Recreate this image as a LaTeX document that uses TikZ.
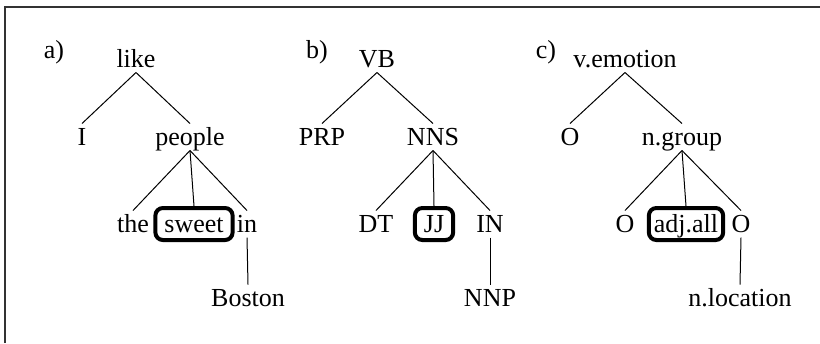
\documentclass[tikz,border=0pt]{standalone}
\usepackage{fontspec}
\setmainfont{Liberation Serif}
\usetikzlibrary{positioning}
\tikzset{
  tag/.style={inner sep=0pt, text height=8.4pt, text depth=2pt, anchor=base},
  hilite/.style={tag, draw, line width=1.6pt, rounded corners=3pt, inner xsep=3.6pt, inner ysep=1.2pt},
  branch/.style={draw=black, line width=0.4pt},
  frame/.style={draw=black!80, line width=0.8pt}
}
\begin{document}
\begin{tikzpicture}[x=0.4pt, y=-0.4pt, font=\fontsize{10.4}{12.5}\selectfont]
\useasboundingbox (0,0) rectangle (820,343);
\draw[frame] (5,343) -- (5,7) -- (820,7);
% a) words
\node[tag] (laba) at (54,58) {a)};
\node[tag] (like) at (136,67) {like};
\node[tag] (I) at (82,145) {I};
\node[tag] (people) at (190,145) {people};
\node[tag] (the) at (133,232) {the};
\node[hilite] (sweet) at (194,232) {sweet};
\node[tag] (in) at (247,232) {in};
\node[tag] (boston) at (248,306) {Boston};
\draw[branch] (like.south) -- (I.north);
\draw[branch] (like.south) -- (people.north);
\draw[branch] (people.south) -- (the.north);
\draw[branch] (people.south) -- (sweet.north);
\draw[branch] (people.south) -- (in.north);
\draw[branch] (in.south) -- (boston.north);
% b) POS tags
\node[tag] (labb) at (317,58) {b)};
\node[tag] (vb) at (377,67) {VB};
\node[tag] (prp) at (322,145) {PRP};
\node[tag] (nns) at (433,145) {NNS};
\node[tag] (dt) at (376,232) {DT};
\node[hilite] (jj) at (434,232) {JJ};
\node[tag] (inb) at (490,232) {IN};
\node[tag] (nnp) at (490,306) {NNP};
\draw[branch] (vb.south) -- (prp.north);
\draw[branch] (vb.south) -- (nns.north);
\draw[branch] (nns.south) -- (dt.north);
\draw[branch] (nns.south) -- (jj.north);
\draw[branch] (nns.south) -- (inb.north);
\draw[branch] (inb.south) -- (nnp.north);
% c) supersenses
\node[tag] (labc) at (546,58) {c)};
\node[tag] (emo) at (625,67) {v.emotion};
\node[tag] (oa) at (570,145) {O};
\node[tag] (group) at (682,145) {n.group};
\node[tag] (ob) at (625,232) {O};
\node[hilite, inner xsep=2pt] (adj) at (686,232) {adj.all};
\node[tag] (oc) at (741,232) {O};
\node[tag] (loc) at (740,306) {n.location};
\draw[branch] (emo.south) -- (oa.north);
\draw[branch] (emo.south) -- (group.north);
\draw[branch] (group.south) -- (ob.north);
\draw[branch] (group.south) -- (adj.north);
\draw[branch] (group.south) -- (oc.north);
\draw[branch] (oc.south) -- (loc.north);
\end{tikzpicture}
\end{document}
